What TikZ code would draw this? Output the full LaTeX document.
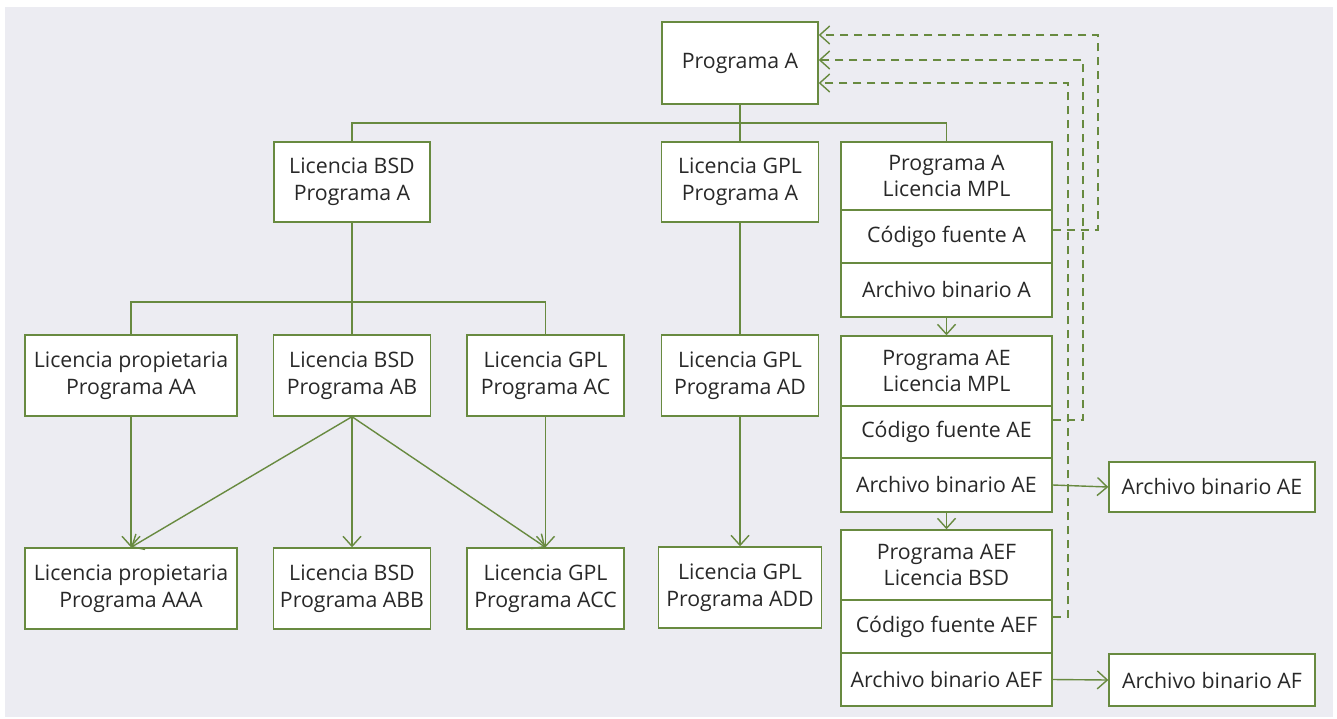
\documentclass[tikz,border=0pt]{standalone}
\usepackage{fontspec}
\setmainfont{Open Sans}
\usetikzlibrary{arrows.meta}
\definecolor{bg}{RGB}{236,236,242}
\definecolor{edge}{RGB}{104,138,64}
\definecolor{ink}{RGB}{40,40,40}
\begin{document}
\begin{tikzpicture}[x=1pt,y=-1pt,
  box/.style={draw=edge, fill=white, line width=1.4pt, inner sep=0pt,
    align=center, text=ink, font=\fontsize{21.3}{26.8}\selectfont},
  conn/.style={draw=edge, line width=1.4pt},
  arr/.style={conn, -{Straight Barb[length=10pt,width=18pt]}},
  back/.style={conn, dash pattern=on 8pt off 6pt,
    -{Straight Barb[length=10pt,width=18pt]}}
]
% page and panel
\fill[white] (0,0) rectangle (1337,718);
\fill[bg] (5,7) rectangle (1333,717);
\useasboundingbox (0,0) rectangle (1337,718);

% root and first level
\node[box, minimum width=156pt, minimum height=82pt] (pA) at (740,63) {Programa A};
\node[box, minimum width=156pt, minimum height=80pt] (bsdA) at (352,182) {Licencia BSD\\Programa A};
\node[box, minimum width=157pt, minimum height=80pt] (gplA) at (740,182) {Licencia GPL\\Programa A};

% MPL stack and its descendants
\node[box, minimum width=211pt, minimum height=68pt] (s1top) at (946.5,176) {Programa A\\Licencia MPL};
\node[box, minimum width=211pt, minimum height=53pt] (s1code) at (946.5,236.5) {Código fuente A};
\node[box, minimum width=211pt, minimum height=54pt] (s1bin) at (946.5,290) {Archivo binario A};
\node[box, minimum width=211pt, minimum height=70pt] (s2top) at (946.5,371) {Programa AE\\Licencia MPL};
\node[box, minimum width=211pt, minimum height=52pt] (s2code) at (946.5,432) {Código fuente AE};
\node[box, minimum width=211pt, minimum height=54pt] (s2bin) at (946.5,485) {Archivo binario AE};
\node[box, minimum width=211pt, minimum height=70pt] (s3top) at (946.5,565) {Programa AEF\\Licencia BSD};
\node[box, minimum width=211pt, minimum height=53pt] (s3code) at (946.5,626.5) {Código fuente AEF};
\node[box, minimum width=211pt, minimum height=53pt] (s3bin) at (946.5,679.5) {Archivo binario AEF};
\node[box, minimum width=206pt, minimum height=50pt] (outAE) at (1212,487) {Archivo binario AE};
\node[box, minimum width=206pt, minimum height=52pt] (outAF) at (1212,680) {Archivo binario AF};

% second level
\node[box, minimum width=212pt, minimum height=81pt] (pAA) at (131,375.5) {Licencia propietaria\\Programa AA};
\node[box, minimum width=157pt, minimum height=81pt] (pAB) at (352,375.5) {Licencia BSD\\Programa AB};
\node[box, minimum width=157pt, minimum height=81pt] (pAC) at (545.5,375.5) {Licencia GPL\\Programa AC};
\node[box, minimum width=157pt, minimum height=81pt] (pAD) at (740,375.5) {Licencia GPL\\Programa AD};

% third level
\node[box, minimum width=212pt, minimum height=81pt] (pAAA) at (131,588.5) {Licencia propietaria\\Programa AAA};
\node[box, minimum width=157pt, minimum height=81pt] (pABB) at (352,588.5) {Licencia BSD\\Programa ABB};
\node[box, minimum width=157pt, minimum height=81pt] (pACC) at (545.5,588.5) {Licencia GPL\\Programa ACC};
\node[box, minimum width=163pt, minimum height=81pt] (pADD) at (740,587.5) {Licencia GPL\\Programa ADD};

% tree buses
\coordinate (bus1) at (0,123);
\coordinate (bus2) at (0,302);
\draw[conn] (pA.south) -- (gplA.north);
\draw[conn] (bsdA.north) |- (s1top.north |- bus1) -- (s1top.north);
\draw[conn] (bsdA.south) -- (pAB.north);
\draw[conn] (pAA.north) |- (pAC.north |- bus2) -- (pAC.north);
\draw[conn] (gplA.south) -- (pAD.north);

% derivations
\draw[arr] (pAA.south) -- (pAAA.north);
\draw[arr] (pAB.south) -- (pAAA.north);
\draw[arr] (pAB.south) -- (pABB.north);
\draw[arr] (pAB.south) -- (pACC.north);
\draw[arr] (pAC.south) -- (pACC.north);
\draw[arr] (pAD.south) -- (pADD.north);
\draw[arr] (s1bin.south) -- (s2top.north);
\draw[arr] (s2bin.south) -- (s3top.north);
\draw[arr] (s2bin.east) -- (outAE.west);
\draw[arr] (s3bin.east) -- (outAF.west);

% source code fed back to the original program
\coordinate (r1) at (1098,35);
\coordinate (r2) at (1083,60);
\coordinate (r3) at (1068,83);
\draw[back] ([yshift=6.5pt]s1code.east) -| (r1) -- (pA.east |- r1);
\draw[back] ([yshift=12pt]s2code.east) -| (r2) -- (pA.east |- r2);
\draw[back] ([yshift=9.5pt]s3code.east) -| (r3) -- (pA.east |- r3);
\end{tikzpicture}
\end{document}
